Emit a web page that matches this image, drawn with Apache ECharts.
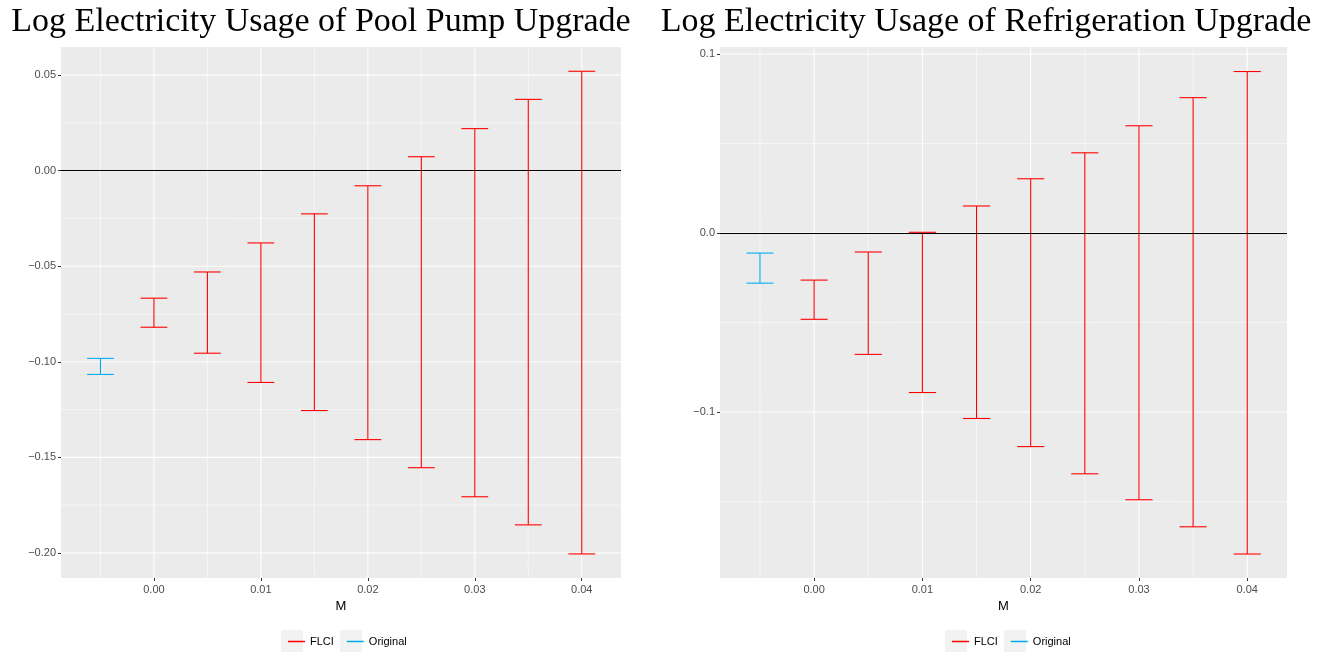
<!DOCTYPE html>
<html lang="en">
<head>
    <meta charset="UTF-8">
    <title>Log Electricity Usage</title>
    <style>
        html, body { margin: 0; padding: 0; background: #fff; }
        #main { width: 1325px; height: 654px; }
    </style>
</head>
<body>
<div id="main"></div>

<script type="text/javascript" src="https://cdn.jsdelivr.net/npm/echarts@6/dist/echarts.min.js"></script>
<script>
    // data
    var titles = ['Log Electricity Usage of Pool Pump Upgrade', 'Log Electricity Usage of Refrigeration Upgrade'];
    var mValues = [0, 0.005, 0.01, 0.015, 0.02, 0.025, 0.03, 0.035, 0.04];
    var originalM = -0.005;

    // pool pump
    var poolFlciUpper = [-0.0667, -0.0530, -0.0378, -0.0226, -0.0079, 0.0073, 0.0220, 0.0373, 0.0520];
    var poolFlciLower = [-0.0819, -0.0955, -0.1108, -0.1255, -0.1407, -0.1554, -0.1706, -0.1853, -0.2005];
    var poolOrigUpper = -0.0982;
    var poolOrigLower = -0.1066;

    // refrigeration
    var fridgeFlciUpper = [-0.0263, -0.0106, 0.0004, 0.0151, 0.0303, 0.0448, 0.0599, 0.0756, 0.0902];
    var fridgeFlciLower = [-0.0482, -0.0678, -0.0891, -0.1036, -0.1193, -0.1345, -0.1490, -0.1641, -0.1793];
    var fridgeOrigUpper = -0.0112;
    var fridgeOrigLower = -0.0280;

    var xTicks = [0, 0.01, 0.02, 0.03, 0.04];
    var xMinor = [-0.005, 0.005, 0.015, 0.025, 0.035];
    var poolYTicks = [-0.20, -0.15, -0.10, -0.05, 0.00, 0.05];
    var poolYMinor = [-0.175, -0.125, -0.075, -0.025, 0.025];
    var fridgeYTicks = [-0.1, 0.0, 0.1];
    var fridgeYMinor = [-0.15, -0.05, 0.05];

    var RED = '#FF0000';
    var BLUE = '#00AEEF';
    var CAP = 0.00125;

    var myChart = echarts.init(document.getElementById('main'));

    function minus(s) { return s.replace('-', '\u2212'); }

    function errData(upper, lower) {
        var d = [];
        for (var i = 0; i < mValues.length; i++) d.push([mValues[i], lower[i], upper[i]]);
        return d;
    }

    function renderErr(params, api) {
        var x = api.value(0);
        var lo = api.coord([x, api.value(1)]);
        var hi = api.coord([x, api.value(2)]);
        var l1 = api.coord([x - CAP, api.value(1)]);
        var r1 = api.coord([x + CAP, api.value(1)]);
        var style = { stroke: api.visual('color'), lineWidth: 1.1 };
        return {
            type: 'group',
            children: [
                { type: 'line', shape: { x1: lo[0], y1: lo[1], x2: hi[0], y2: hi[1] }, style: style },
                { type: 'line', shape: { x1: l1[0], y1: lo[1], x2: r1[0], y2: lo[1] }, style: style },
                { type: 'line', shape: { x1: l1[0], y1: hi[1], x2: r1[0], y2: hi[1] }, style: style }
            ]
        };
    }

    // ggplot-like white grid lines, drawn from axis values
    function gridData(xs, xm, ys, ym) {
        var d = [];
        xm.forEach(function (v) { d.push([v, 0, 0]); });
        ym.forEach(function (v) { d.push([v, 1, 0]); });
        xs.forEach(function (v) { d.push([v, 0, 1]); });
        ys.forEach(function (v) { d.push([v, 1, 1]); });
        return d;
    }

    function renderGrid(params, api) {
        var v = api.value(0), horiz = api.value(1), major = api.value(2);
        var cs = params.coordSys;
        var p = horiz ? api.coord([0, v]) : api.coord([v, 0]);
        var shape = horiz
            ? { x1: cs.x, y1: p[1], x2: cs.x + cs.width, y2: p[1] }
            : { x1: p[0], y1: cs.y, x2: p[0], y2: cs.y + cs.height };
        return {
            type: 'line', shape: shape,
            style: { stroke: '#FFFFFF', lineWidth: major ? 1.1 : 0.55 }
        };
    }

    var sans = 'Liberation Sans, Arial, sans-serif';
    var axisLabelStyle = { color: '#4D4D4D', fontSize: 11, fontFamily: sans };

    function xAxis(idx) {
        return {
            type: 'value', gridIndex: idx,
            min: -0.00869, max: 0.04367,
            name: 'M', nameLocation: 'middle', nameGap: 20,
            nameTextStyle: { color: '#000', fontSize: 13, fontFamily: sans },
            axisLine: { show: false, onZero: false },
            axisTick: { show: true, customValues: xTicks, length: 3, lineStyle: { color: '#333', width: 1 } },
            axisLabel: Object.assign({ customValues: xTicks, margin: 6,
                formatter: function (v) { return minus(v.toFixed(2)); } }, axisLabelStyle),
            splitLine: { show: false }
        };
    }

    function yAxis(idx, min, max, ticks, dec) {
        return {
            type: 'value', gridIndex: idx, min: min, max: max,
            axisLine: { show: false, onZero: false },
            axisTick: { show: true, customValues: ticks, length: 3, lineStyle: { color: '#333', width: 1 } },
            axisLabel: Object.assign({ customValues: ticks, margin: 5,
                formatter: function (v) { return minus(v.toFixed(dec)); } }, axisLabelStyle),
            splitLine: { show: false }
        };
    }

    function legend(left) {
        return {
            data: [
                { name: 'FLCI', itemStyle: { color: RED } },
                { name: 'Original', itemStyle: { color: BLUE } }
            ],
            left: left, top: 631,
            icon: 'rect',
            itemWidth: 17, itemHeight: 1.5,
            itemGap: 13,
            textStyle: { color: '#000', fontSize: 11, fontFamily: sans }
        };
    }

    // grey legend key backgrounds, as ggplot draws them
    function keyBoxes(left) {
        return [
            { type: 'rect', left: left, top: 630, shape: { width: 22, height: 22 }, style: { fill: '#F2F2F2' }, z: -1 },
            { type: 'rect', left: left + 59, top: 630, shape: { width: 22, height: 22 }, style: { fill: '#F2F2F2' }, z: -1 }
        ];
    }

    var zeroLine = {
        silent: true, symbol: 'none', label: { show: false },
        lineStyle: { color: '#000', width: 1.1, type: 'solid' },
        data: [{ yAxis: 0 }]
    };

    var titleStyle = { fontFamily: 'Liberation Serif, serif', fontWeight: 'normal', fontSize: 34, color: '#000' };

    var option = {
        animation: false,
        backgroundColor: '#fff',
        title: [
            { text: titles[0], left: 316, top: 0, textAlign: 'center', textStyle: titleStyle },
            { text: titles[1], left: 981, top: 0, textAlign: 'center', textStyle: titleStyle }
        ],
        graphic: keyBoxes(281).concat(keyBoxes(945)),
        grid: [
            { left: 61, top: 47, width: 560, height: 531, backgroundColor: '#EBEBEB', show: true, borderWidth: 0 },
            { left: 720, top: 47, width: 567, height: 531, backgroundColor: '#EBEBEB', show: true, borderWidth: 0 }
        ],
        legend: [legend(283), legend(947)],
        xAxis: [xAxis(0), xAxis(1)],
        yAxis: [
            yAxis(0, -0.2131, 0.0647, poolYTicks, 2),
            yAxis(1, -0.1927, 0.1039, fridgeYTicks, 1)
        ],
        series: [
            { type: 'custom', name: 'grid0', xAxisIndex: 0, yAxisIndex: 0, silent: true, z: 1,
              renderItem: renderGrid, data: gridData(xTicks, xMinor, poolYTicks, poolYMinor) },
            { type: 'custom', name: 'grid1', xAxisIndex: 1, yAxisIndex: 1, silent: true, z: 1,
              renderItem: renderGrid, data: gridData(xTicks, xMinor, fridgeYTicks, fridgeYMinor) },
            { type: 'custom', name: 'FLCI', xAxisIndex: 0, yAxisIndex: 0, z: 3, color: RED,
              renderItem: renderErr, data: errData(poolFlciUpper, poolFlciLower), markLine: zeroLine },
            { type: 'custom', name: 'Original', xAxisIndex: 0, yAxisIndex: 0, z: 3, color: BLUE,
              renderItem: renderErr, data: [[originalM, poolOrigLower, poolOrigUpper]] },
            { type: 'custom', name: 'FLCI', xAxisIndex: 1, yAxisIndex: 1, z: 3, color: RED,
              renderItem: renderErr, data: errData(fridgeFlciUpper, fridgeFlciLower), markLine: zeroLine },
            { type: 'custom', name: 'Original', xAxisIndex: 1, yAxisIndex: 1, z: 3, color: BLUE,
              renderItem: renderErr, data: [[originalM, fridgeOrigLower, fridgeOrigUpper]] }
        ]
    };

    myChart.setOption(option);
</script>
</body>
</html>
